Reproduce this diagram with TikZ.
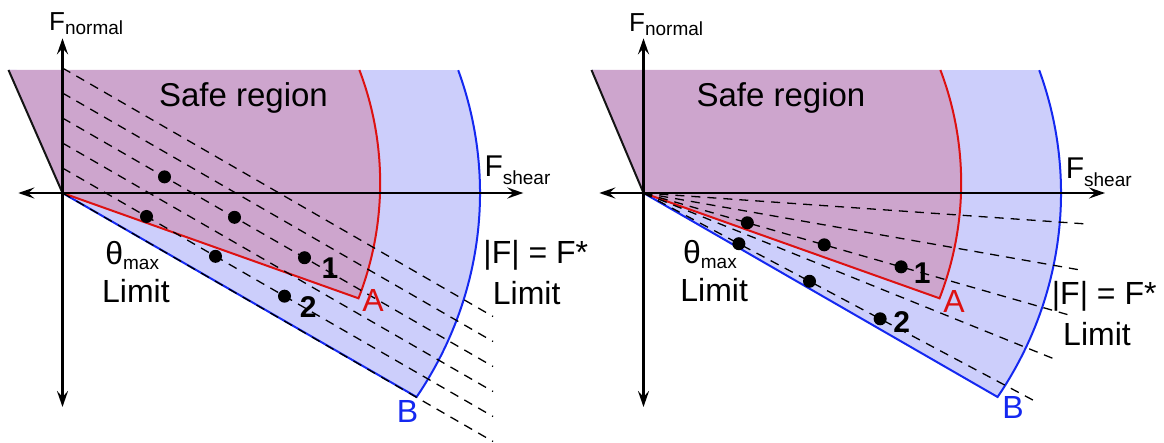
\documentclass[tikz,border=0pt]{standalone}
\usepackage{fontspec}
\setmainfont{Liberation Sans}
\usetikzlibrary{arrows.meta}
\definecolor{flSafe}{HTML}{CDA5CD}
\definecolor{flCone}{HTML}{CCCEFB}
\definecolor{flRed}{HTML}{DD1111}
\definecolor{flBlue}{HTML}{1428F0}
\definecolor{flInk}{HTML}{000000}
\tikzset{
  flaxis/.style={{Stealth[length=16pt,width=11pt,inset=6pt]}-{Stealth[length=16pt,width=11pt,inset=6pt]},draw=flInk,line width=2.4pt},
  flsafe/.style={fill=flSafe},
  flcone/.style={fill=flCone},
  flwall/.style={draw=flInk!92,line width=2pt},
  flamax/.style={draw=flRed,line width=2pt},
  flbmax/.style={draw=flBlue,line width=2pt},
  flpath/.style={draw=flInk,line width=1.3pt,dash pattern=on 9pt off 7pt},
  fldot/.style={circle,fill=flInk,inner sep=0pt,minimum size=13pt},
  fltext/.style={font=\fontsize{32}{36}\selectfont,inner sep=0pt,text=flInk},
  flnum/.style={font=\fontsize{30}{34}\selectfont\bfseries,inner sep=0pt,text=flInk}
}
\newcommand{\flsub}[2][5pt]{\raisebox{-#1}{\fontsize{19}{22}\selectfont #2}}

\begin{document}
\begin{tikzpicture}[x=1pt,y=1pt]
\useasboundingbox (0,0) rectangle (1164,442);

% ---- LEFT PANEL: PARALLEL PATHS ----
\begin{scope}[shift={(62.5,249)}]
\coordinate (oL) at (0,0);
\coordinate (wL) at (-54,123);
\coordinate (aL) at (296,-105.3);
\coordinate (bL) at (354.1,-204);
\coordinate (ntL) at (0,154.7);
\coordinate (nbL) at (0,-214);
\coordinate (slL) at (-44.2,0);
\coordinate (srL) at (460.8,0);

\fill[flcone] (wL) -- (oL) -- (bL) arc[start angle=-32,end angle=18.6,x radius=417.5pt,y radius=385pt] -- cycle;
\fill[flsafe] (wL) -- (oL) -- (aL) arc[start angle=-21.28,end angle=20.84,radius=317.7pt] -- cycle;
\draw[flbmax] (oL) -- (bL) arc[start angle=-32,end angle=18.6,x radius=417.5pt,y radius=385pt];
\draw[flamax] (oL) -- (aL) arc[start angle=-21.28,end angle=20.84,radius=317.7pt];
\draw[flwall] (wL) -- (oL);

\foreach \k in {0,...,5}
  \draw[flpath] (0,25*\k) -- (430.5,25*\k-248.5);

\draw[flaxis] (nbL) -- (ntL);
\draw[flaxis] (slL) -- (srL);

\foreach \x [count=\i] in {84,153,222}
  \node[fldot] (qL\i) at (\x,{25-0.57735*\x}) {};
\foreach \x [count=\i] in {102,172,242}
  \node[fldot] (pL\i) at (\x,{75-0.57735*\x}) {};
\node[flnum] (n1L) at ([shift={(25.5,-10.6)}]pL3) {1};
\node[flnum] (n2L) at ([shift={(23.8,-10.5)}]qL3) {2};

\node[fltext,anchor=base west] (fnL) at (-13.5,162.3) {\fontsize{26}{28}\selectfont F\flsub[4pt]{normal}};
\node[fltext,anchor=base west] (fsL) at (421.8,16.3) {\fontsize{30}{34}\selectfont F\flsub[8pt]{shear}};
\node[fltext,anchor=base] (safeL) at (181,86.3) {\fontsize{33}{36}\selectfont Safe region};
\node[fltext,anchor=base] (thL) at (69.7,-72) {θ\flsub{max}};
\node[fltext,anchor=base] (tlL) at (73.4,-109.7) {Limit};
\node[fltext,anchor=base] (fmL) at (473.3,-70.3) {|F| = F*};
\node[fltext,anchor=base] (flL) at (464.2,-111.3) {Limit};
\node[fltext,text=flRed] (tAL) at (310.5,-107.5) {A};
\node[fltext,text=flBlue] (tBL) at (345,-218.7) {B};
\end{scope}

% ---- RIGHT PANEL: RADIAL PATHS ----
\begin{scope}[shift={(643.5,249)}]
\coordinate (oR) at (0,0);
\coordinate (wR) at (-52,123);
\coordinate (aR) at (296,-105.3);
\coordinate (bR) at (354.1,-204);
\coordinate (ntR) at (0,154.7);
\coordinate (nbR) at (0,-214);
\coordinate (slR) at (-44.2,0);
\coordinate (srR) at (461.5,0);

\fill[flcone] (wR) -- (oR) -- (bR) arc[start angle=-32,end angle=18.6,x radius=417.5pt,y radius=385pt] -- cycle;
\fill[flsafe] (wR) -- (oR) -- (aR) arc[start angle=-21.28,end angle=20.84,radius=317.7pt] -- cycle;
\draw[flbmax] (oR) -- (bR) arc[start angle=-32,end angle=18.6,x radius=417.5pt,y radius=385pt];
\draw[flamax] (oR) -- (aR) arc[start angle=-21.28,end angle=20.84,radius=317.7pt];
\draw[flwall] (wR) -- (oR);

\foreach \a in {4,10,16,22,28}
  \draw[flpath] (oR) -- (-\a:443);

\draw[flaxis] (nbR) -- (ntR);
\draw[flaxis] (slR) -- (srR);

\foreach \r [count=\i] in {108,188,268}{
  \node[fldot] (pR\i) at (-16:\r) {};
  \node[fldot] (qR\i) at (-28:\r) {};
}
\node[flnum] (n1R) at ([shift={(21,-6.4)}]pR3) {1};
\node[flnum] (n2R) at ([shift={(21.6,-3)}]qR3) {2};

\node[fltext,anchor=base west] (fnR) at (-14.5,161.3) {\fontsize{26}{28}\selectfont F\flsub[4pt]{normal}};
\node[fltext,anchor=base west] (fsR) at (422.1,14.7) {\fontsize{30}{34}\selectfont F\flsub[8pt]{shear}};
\node[fltext,anchor=base] (safeR) at (137.5,86.3) {\fontsize{33}{36}\selectfont Safe region};
\node[fltext,anchor=base] (thR) at (66.4,-70.3) {θ\flsub{max}};
\node[fltext,anchor=base] (tlR) at (70.7,-108.7) {Limit};
\node[fltext,anchor=base] (fmR) at (460.7,-112) {|F| = F*};
\node[fltext,anchor=base] (flR) at (453.5,-152) {Limit};
\node[fltext,text=flRed] (tAR) at (310.5,-108.7) {A};
\node[fltext,text=flBlue] (tBR) at (369.5,-214.5) {B};
\end{scope}

\end{tikzpicture}
\end{document}
